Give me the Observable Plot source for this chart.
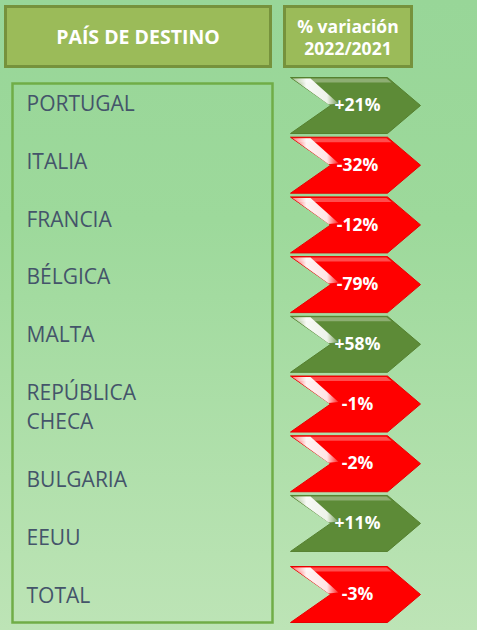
<!DOCTYPE html>
<html><head><meta charset="utf-8">
<script src="https://cdn.jsdelivr.net/npm/d3@7"></script>
<script src="https://cdn.jsdelivr.net/npm/@observablehq/plot@0.6"></script>
<style>
html,body{margin:0;padding:0;}
body{width:477px;height:630px;overflow:hidden;background:linear-gradient(to bottom,#98d698 0%,#9dd99b 35%,#bde4b6 100%);font-family:"Open Sans",sans-serif;position:relative;}
.hdr{position:absolute;top:5px;height:63px;box-sizing:border-box;background:#9bbb59;border:3px solid #76923c;color:#fff;font-weight:bold;display:flex;align-items:center;justify-content:center;text-align:center;}
#h1{left:4px;width:268px;font-size:19.5px;}
#h2{left:283px;width:130px;font-size:17.5px;line-height:22px;}
#row{position:absolute;top:72px;left:0;display:flex;}
</style></head>
<body>
<div class="hdr" id="h1"></div>
<div class="hdr" id="h2"></div>
<div id="row"></div>
<script>
// ---- data ----
const headers = ["PAÍS DE DESTINO", "% variación\n2022/2021"];
const countries = ["PORTUGAL", "ITALIA", "FRANCIA", "BÉLGICA", "MALTA", "REPÚBLICA\nCHECA", "BULGARIA", "EEUU", "TOTAL"];
const variation = [21, -32, -12, -79, 58, -1, -2, 11, -3];

// ---- layout ----
document.getElementById("h1").textContent = headers[0];
document.getElementById("h2").innerHTML = headers[1].split("\n").join("<br>");

// left column: names flow as text lines with a blank line between entries
let line = 0;
const names = countries.map(name => {
  const n = name.split("\n").length;
  const d = {name, line: line + (n - 1) / 2};
  line += n + 1;
  return d;
});
const lastLine = line - 2;

// right column: one chevron per row, extra gap before TOTAL
const totalGap = 0.19;
const rows = countries.map((name, i) => ({
  name, value: variation[i],
  pos: i + (name === "TOTAL" ? totalGap : 0),
  label: (variation[i] > 0 ? "+" : "") + variation[i] + "%"
}));
const H = 558;

const left = Plot.plot({
  width: 280, height: H,
  marginLeft: 12, marginRight: 8, marginTop: 11, marginBottom: 8,
  y: {domain: [0, lastLine], reverse: true, insetTop: 18, insetBottom: 29, axis: null},
  style: {background: "transparent", overflow: "visible"},
  marks: [
    Plot.frame({stroke: "#70ad47", strokeWidth: 2.5}),
    Plot.text(names, {y: "line", text: "name", frameAnchor: "left", dx: 14, textAnchor: "start",
      fill: "#44546a", fontSize: 21, fontFamily: "Open Sans", lineHeight: 1.38,
      style: "letter-spacing:1.5px"})
  ]
});

// chevron symbols (pixel dims relative to centre)
const W2 = 65, HH = 28, NOTCH = 40, TIP = 33;
const chevron = {draw(ctx) {
  ctx.moveTo(-W2, -HH); ctx.lineTo(W2 - TIP, -HH); ctx.lineTo(W2, 0);
  ctx.lineTo(W2 - TIP, HH); ctx.lineTo(-W2, HH); ctx.lineTo(-W2 + NOTCH, 0); ctx.closePath();
}};
const topGloss = {draw(ctx) {
  ctx.moveTo(-W2 + 2, -HH + 1); ctx.lineTo(W2 - TIP - 1, -HH + 1); ctx.lineTo(W2 - TIP + 4, -HH + 5);
  ctx.lineTo(-W2 + 8, -HH + 5); ctx.closePath();
}};
const streak = {draw(ctx) {
  ctx.moveTo(-W2 + 2, -HH + 1); ctx.lineTo(-W2 + 20, -HH + 1); ctx.lineTo(-W2 + 48, -2);
  ctx.lineTo(-W2 + NOTCH - 2, -1); ctx.closePath();
}};
const fillOf = d => d.value > 0 ? "#5d8b37" : "#ff0000";
const strokeOf = d => d.value > 0 ? "#55802f" : "#e80000";

const right = Plot.plot({
  width: 197, height: H,
  marginLeft: 0, marginRight: 47, marginTop: 11, marginBottom: 8,
  y: {domain: [0, 8 + totalGap], reverse: true, insetTop: 22, insetBottom: 28, axis: null},
  color: {type: "identity"},
  style: {background: "transparent", overflow: "visible"},
  marks: [
    Plot.dot(rows, {y: "pos", symbol: chevron, r: 5, fill: fillOf, stroke: strokeOf, strokeWidth: 1}),
    Plot.dot(rows, {y: "pos", symbol: topGloss, r: 5, fill: "white", fillOpacity: 0.3, stroke: "none"}),
    Plot.dot(rows, {y: "pos", symbol: streak, r: 5, fill: "url(#streakGrad)", stroke: "none"}),
    Plot.text(rows, {y: "pos", text: "label", dx: 2, fill: "white", fontWeight: "bold",
      fontSize: 17.5, fontFamily: "Open Sans"})
  ]
});
const defs = d3.select(right).insert("defs", ":first-child");
const g = defs.append("linearGradient").attr("id", "streakGrad").attr("x1", "0").attr("y1", "0").attr("x2", "1").attr("y2", "0");
g.append("stop").attr("offset", "0").attr("stop-color", "#ffffff").attr("stop-opacity", 0.3);
g.append("stop").attr("offset", "0.3").attr("stop-color", "#ffffff").attr("stop-opacity", 0.95);
g.append("stop").attr("offset", "0.75").attr("stop-color", "#ffffff").attr("stop-opacity", 0.9);
g.append("stop").attr("offset", "1").attr("stop-color", "#ffffff").attr("stop-opacity", 0.15);

const row = document.getElementById("row");
row.appendChild(left);
row.appendChild(right);
</script>
</body></html>
